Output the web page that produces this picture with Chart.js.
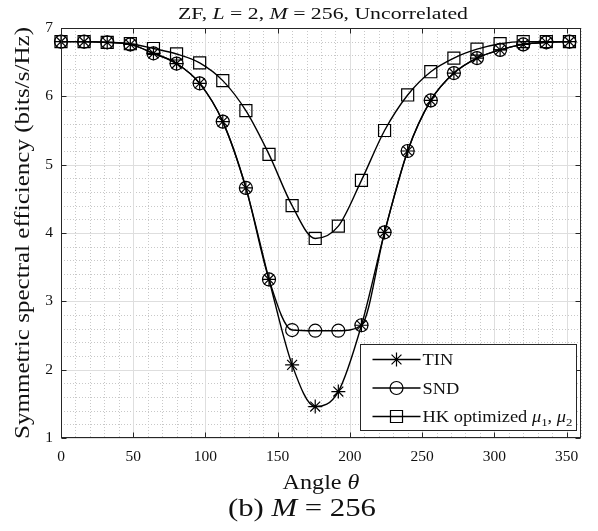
<!DOCTYPE html>
<html>
<head>
<meta charset="utf-8">
<script src="https://cdn.jsdelivr.net/npm/chart.js@4.4.0/dist/chart.umd.min.js"></script>
<style>
  html, body { margin: 0; padding: 0; background: #fff; }
  #wrap { position: relative; width: 598px; height: 531px; }
</style>
</head>
<body>
<div id="wrap"><canvas id="chart"></canvas></div>
<script>
// Angle grid (degrees) at which each scheme was evaluated
const angles = [0, 16, 32, 48, 64, 80, 96, 112, 128, 144, 160, 176, 192, 208, 224, 240, 256, 272, 288, 304, 320, 336, 352];

// Symmetric spectral efficiency (bits/s/Hz)
const tinValues = [6.80, 6.80, 6.79, 6.76, 6.63, 6.48, 6.19, 5.63, 4.66, 3.32, 2.07, 1.46, 1.68, 2.65, 4.01, 5.20, 5.94, 6.34, 6.56, 6.68, 6.76, 6.79, 6.80];
const sndValues = [6.80, 6.80, 6.79, 6.76, 6.63, 6.48, 6.19, 5.63, 4.66, 3.32, 2.58, 2.57, 2.57, 2.65, 4.01, 5.20, 5.94, 6.34, 6.56, 6.68, 6.76, 6.79, 6.80];
const hkValues  = [6.80, 6.80, 6.79, 6.77, 6.70, 6.62, 6.49, 6.23, 5.79, 5.15, 4.40, 3.92, 4.10, 4.77, 5.50, 6.02, 6.36, 6.56, 6.69, 6.77, 6.80, 6.80, 6.80];

// Axis ticks
const xTickValues = [0, 50, 100, 150, 200, 250, 300, 350];
const yTickValues = [1, 2, 3, 4, 5, 6, 7];
const xMinorStep = 10;
const yMinorStep = 0.2;

const SERIF = '"Liberation Serif", "DejaVu Serif", serif';
const INK = '#111';

function points(vals) { return angles.map((a, i) => ({ x: a, y: vals[i] })); }

function series(label, vals, style, radius) {
  return {
    label,
    data: points(vals),
    borderColor: '#000',
    borderWidth: 1.4,
    pointStyle: style,
    pointRadius: radius,
    pointBorderColor: '#000',
    pointBorderWidth: 1.2,
    pointBackgroundColor: 'rgba(0,0,0,0)',
    cubicInterpolationMode: 'monotone',
    fill: false,
    clip: false
  };
}

// Measure a line of plain / italic / subscript pieces
function layoutRich(ctx, parts, size) {
  return parts.map(([t, it, sub]) => {
    const s = sub ? size * 0.7 : size;
    const font = (it ? 'italic ' : '') + s + 'px ' + SERIF;
    ctx.font = font;
    return { t, font, w: ctx.measureText(t).width, dy: sub ? size * 0.22 : 0 };
  });
}

// Draw rich text; `width` sets the set width of the whole line (wide TeX-like face)
function richText(ctx, parts, size, x, y, align, width) {
  const items = layoutRich(ctx, parts, size);
  const total = items.reduce((s, it) => s + it.w, 0);
  const sx = width ? width / total : 1;
  ctx.save();
  ctx.translate(align === 'center' ? x - total * sx / 2 : x, y);
  ctx.scale(sx, 1);
  ctx.textAlign = 'left';
  ctx.textBaseline = 'alphabetic';
  let cx = 0;
  for (const it of items) {
    ctx.font = it.font;
    ctx.fillText(it.t, cx, it.dy);
    cx += it.w;
  }
  ctx.restore();
  return sx;
}

function marker(ctx, style, x, y, r) {
  ctx.beginPath();
  if (style === 'star') {
    for (let k = 0; k < 4; k++) {
      const ang = k * Math.PI / 4;
      const dx = Math.cos(ang) * r, dy = Math.sin(ang) * r;
      ctx.moveTo(x - dx, y - dy); ctx.lineTo(x + dx, y + dy);
    }
  } else if (style === 'circle') {
    ctx.arc(x, y, r, 0, Math.PI * 2);
  } else if (style === 'rect') {
    const s = r / Math.SQRT2;
    ctx.rect(x - s, y - s, 2 * s, 2 * s);
  }
  ctx.stroke();
}

// Grid, inward ticks, box, labels and legend
const axesFrame = {
  id: 'axesFrame',
  beforeDatasetsDraw(chart) {
    const { ctx, chartArea: a, scales: { x, y } } = chart;
    ctx.save();
    ctx.lineWidth = 1;
    // minor grid (dotted)
    ctx.strokeStyle = '#c8c8c8';
    ctx.setLineDash([1, 2]);
    ctx.beginPath();
    for (let i = 0; i * xMinorStep <= x.max; i++) {
      const v = i * xMinorStep;
      if (xTickValues.includes(v)) continue;
      const px = Math.round(x.getPixelForValue(v)) + 0.5;
      ctx.moveTo(px, a.top); ctx.lineTo(px, a.bottom);
    }
    const nY = Math.round((y.max - y.min) / yMinorStep);
    for (let i = 0; i <= nY; i++) {
      if (i % 5 === 0) continue;
      const py = Math.round(y.getPixelForValue(y.min + i * yMinorStep)) + 0.5;
      ctx.moveTo(a.left, py); ctx.lineTo(a.right, py);
    }
    ctx.stroke();
    // major grid (solid)
    ctx.setLineDash([]);
    ctx.strokeStyle = '#dedede';
    ctx.beginPath();
    for (const v of xTickValues) {
      const px = Math.round(x.getPixelForValue(v)) + 0.5;
      ctx.moveTo(px, a.top); ctx.lineTo(px, a.bottom);
    }
    for (const v of yTickValues) {
      const py = Math.round(y.getPixelForValue(v)) + 0.5;
      ctx.moveTo(a.left, py); ctx.lineTo(a.right, py);
    }
    ctx.stroke();
    ctx.restore();
  },
  afterDatasetsDraw(chart) {
    const { ctx, chartArea: a, scales: { x, y } } = chart;
    ctx.save();
    ctx.strokeStyle = '#262626';
    ctx.lineWidth = 1;
    const L = Math.round(a.left) + 0.5, R = Math.round(a.right) - 0.5;
    const T = Math.round(a.top) + 0.5, B = Math.round(a.bottom) - 0.5;
    ctx.strokeRect(L, T, R - L, B - T);
    ctx.beginPath();
    const tl = 5;
    for (const v of xTickValues) {
      const px = Math.round(x.getPixelForValue(v)) + 0.5;
      ctx.moveTo(px, B); ctx.lineTo(px, B - tl);
      ctx.moveTo(px, T); ctx.lineTo(px, T + tl);
    }
    for (const v of yTickValues) {
      const py = Math.round(y.getPixelForValue(v)) + 0.5;
      ctx.moveTo(L, py); ctx.lineTo(L + tl, py);
      ctx.moveTo(R, py); ctx.lineTo(R - tl, py);
    }
    ctx.stroke();
    ctx.restore();
  },
  afterDraw(chart) {
    const { ctx, chartArea: a } = chart;
    ctx.save();
    ctx.fillStyle = INK;
    const midX = (a.left + a.right) / 2;
    // title
    richText(ctx, [['ZF, '], ['L', 1], [' = 2, '], ['M', 1], [' = 256, Uncorrelated']], 16.5, midX + 2, 19, 'center', 290);
    // x-axis label
    richText(ctx, [['Angle '], ['\u03B8', 1]], 21, midX, 489, 'center', 77);
    // sub-figure caption
    richText(ctx, [['(b) '], ['M', 1], [' = 256']], 25, chart.width / 2 + 3, 516, 'center', 148);
    // y-axis label
    ctx.save();
    ctx.translate(29, (a.top + a.bottom) / 2);
    ctx.rotate(-Math.PI / 2);
    richText(ctx, [['Symmetric spectral efficiency (bits/s/Hz)']], 20, 0, 0, 'center', 412);
    ctx.restore();

    // legend
    const bx = 360.5, by = 344.5, bw = 216, bh = 86;
    ctx.fillStyle = '#fff';
    ctx.fillRect(bx, by, bw, bh);
    ctx.strokeStyle = '#262626';
    ctx.lineWidth = 1;
    ctx.strokeRect(bx, by, bw, bh);
    const entries = [
      { parts: [['TIN']], style: 'star', r: 7 },
      { parts: [['SND']], style: 'circle', r: 6.5 },
      { parts: [['HK optimized '], ['\u03BC', 1], ['1', 0, 1], [', '], ['\u03BC', 1], ['2', 0, 1]], style: 'rect', r: 8.5 }
    ];
    // common horizontal set width for the legend text
    const hkItems = layoutRich(ctx, entries[2].parts, 16);
    const legendSx = 150 / hkItems.reduce((s, it) => s + it.w, 0);
    entries.forEach((e, i) => {
      const ey = by + 15 + i * 28.5;
      ctx.strokeStyle = '#000';
      ctx.lineWidth = 1.4;
      ctx.beginPath();
      ctx.moveTo(bx + 12, ey); ctx.lineTo(bx + 60, ey);
      ctx.stroke();
      ctx.lineWidth = 1.2;
      marker(ctx, e.style, bx + 36, ey, e.r);
      ctx.fillStyle = INK;
      const items = layoutRich(ctx, e.parts, 16);
      const w = items.reduce((s, it) => s + it.w, 0) * legendSx;
      richText(ctx, e.parts, 16, bx + 62, ey + 5.5, 'left', w);
    });
    ctx.restore();
  }
};

new Chart(document.getElementById('chart'), {
  type: 'line',
  data: {
    datasets: [
      series('TIN', tinValues, 'star', 7),
      series('SND', sndValues, 'circle', 6.5),
      series('HK optimized \u03BC1, \u03BC2', hkValues, 'rect', 8.5)
    ]
  },
  plugins: [axesFrame],
  options: {
    responsive: true,
    maintainAspectRatio: false,
    animation: false,
    events: [],
    layout: { padding: { top: 28, right: 17, left: 0, bottom: 0 } },
    plugins: { legend: { display: false }, title: { display: false }, tooltip: { enabled: false } },
    scales: {
      x: {
        type: 'linear',
        min: 0,
        max: 360,
        afterBuildTicks: s => { s.ticks = xTickValues.map(v => ({ value: v })); },
        afterFit: s => { s.height = 93; },
        grid: { display: false, drawTicks: false },
        border: { display: false },
        ticks: { padding: 10, color: INK, font: { family: SERIF, size: 15.5 }, maxRotation: 0 }
      },
      y: {
        type: 'linear',
        min: 1,
        max: 7,
        afterBuildTicks: s => { s.ticks = yTickValues.map(v => ({ value: v })); },
        afterFit: s => { s.width = 61; },
        grid: { display: false, drawTicks: false },
        border: { display: false },
        ticks: { padding: 8, color: INK, font: { family: SERIF, size: 15.5 } }
      }
    }
  }
});
</script>
</body>
</html>
